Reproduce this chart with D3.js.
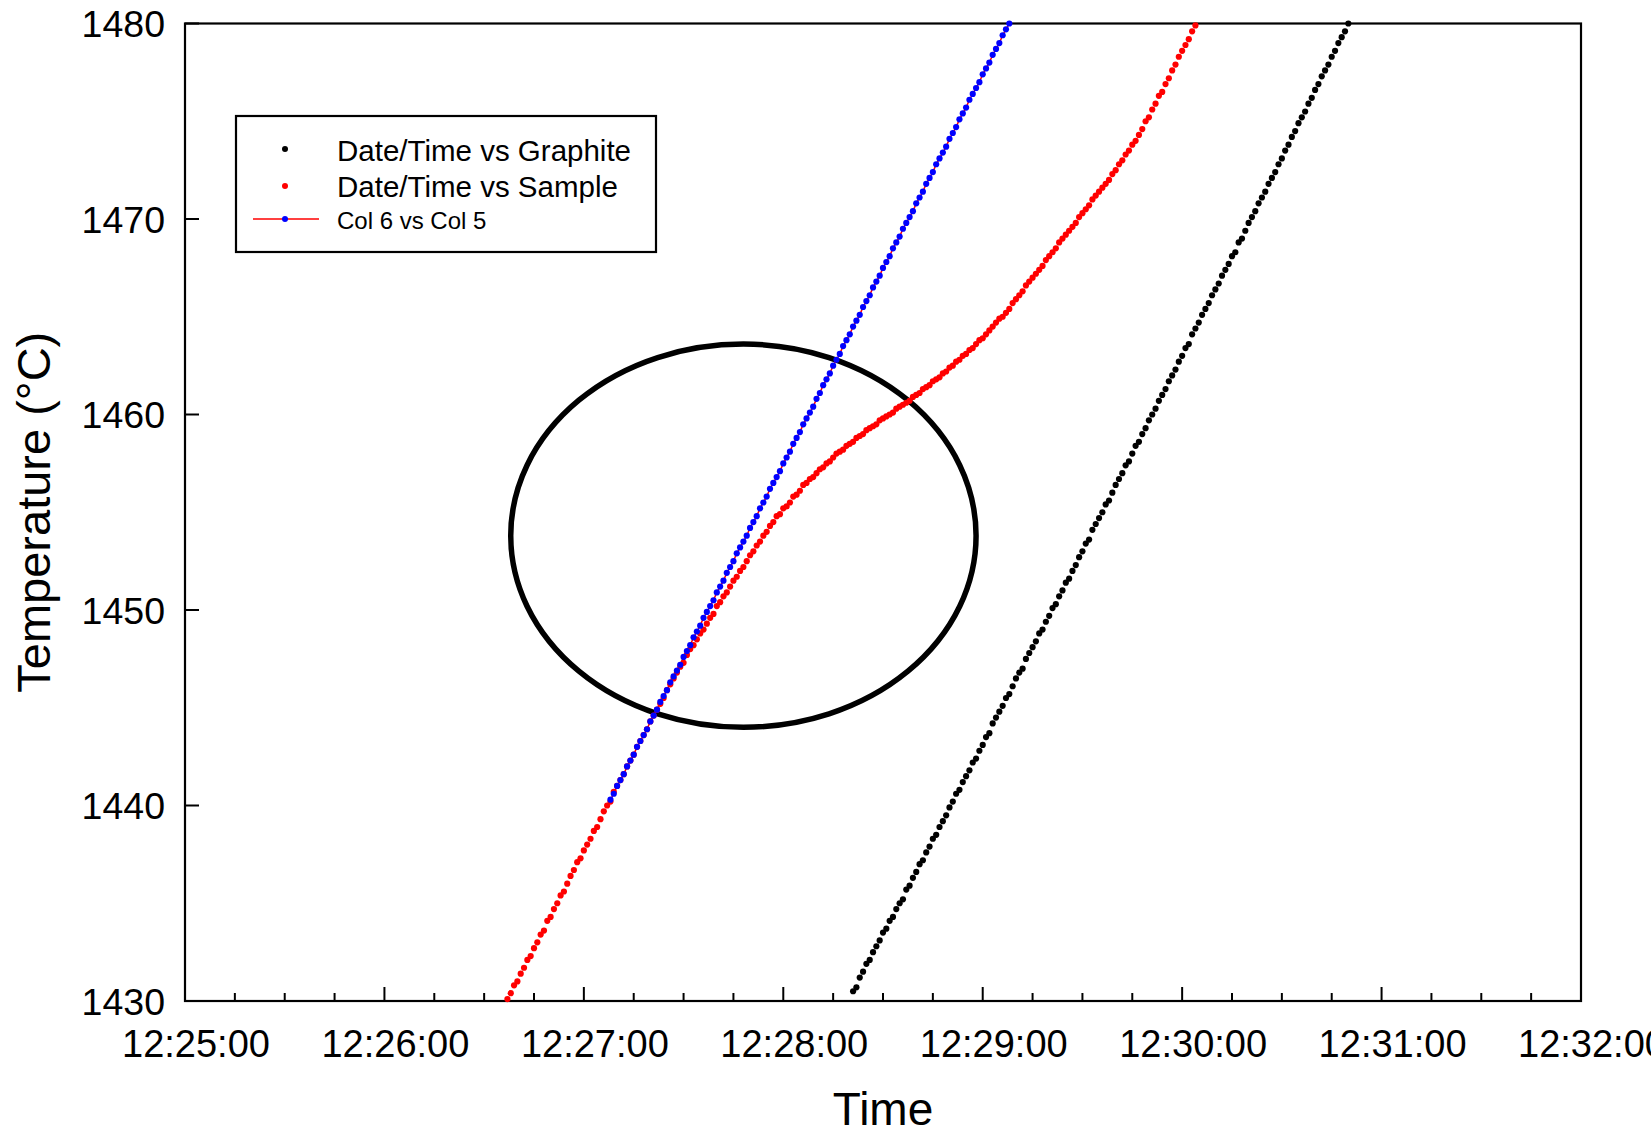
<!DOCTYPE html>
<html>
<head>
<meta charset="utf-8">
<script src="https://cdn.jsdelivr.net/npm/d3@7"></script>
<style>
  body { margin: 0; background: #fff; }
  text { font-family: "Liberation Sans", Arial, sans-serif; fill: #000; }
</style>
</head>
<body>
<div id="chart"></div>
<script>
// axis ticks
const timeTicks = ["12:25:00", "12:26:00", "12:27:00", "12:28:00", "12:29:00", "12:30:00", "12:31:00", "12:32:00"];
const tempTicks = [1430, 1440, 1450, 1460, 1470, 1480];

// one reading per second from the start time
const graphiteStart = "12:28:21";
const graphiteTemp = [
  1430.5, 1430.7, 1431.2, 1431.5, 1431.9, 1432.1, 1432.5, 1432.8, 1433.1, 1433.5,
  1433.7, 1434.1, 1434.3, 1434.7, 1435.0, 1435.2, 1435.7, 1435.9, 1436.3, 1436.6,
  1437.0, 1437.2, 1437.6, 1437.9, 1438.3, 1438.5, 1438.9, 1439.2, 1439.5, 1439.9,
  1440.2, 1440.6, 1440.8, 1441.2, 1441.5, 1441.8, 1442.2, 1442.4, 1442.8, 1443.1,
  1443.5, 1443.7, 1444.2, 1444.5, 1444.8, 1445.1, 1445.5, 1445.7, 1446.1, 1446.5,
  1446.8, 1447.0, 1447.5, 1447.8, 1448.1, 1448.4, 1448.8, 1449.0, 1449.4, 1449.7,
  1450.1, 1450.3, 1450.7, 1451.0, 1451.4, 1451.6, 1452.0, 1452.3, 1452.7, 1453.0,
  1453.4, 1453.6, 1454.1, 1454.4, 1454.7, 1455.0, 1455.4, 1455.6, 1456.0, 1456.4,
  1456.7, 1457.0, 1457.4, 1457.6, 1458.0, 1458.4, 1458.6, 1459.0, 1459.3, 1459.7,
  1460.0, 1460.3, 1460.7, 1461.0, 1461.3, 1461.7, 1462.0, 1462.3, 1462.7, 1463.0,
  1463.4, 1463.6, 1464.1, 1464.4, 1464.7, 1465.1, 1465.4, 1465.7, 1466.1, 1466.4,
  1466.7, 1467.1, 1467.4, 1467.7, 1468.1, 1468.3, 1468.8, 1469.0, 1469.4, 1469.8,
  1470.1, 1470.4, 1470.8, 1471.1, 1471.4, 1471.8, 1472.1, 1472.4, 1472.8, 1473.1,
  1473.5, 1473.8, 1474.2, 1474.5, 1474.9, 1475.2, 1475.5, 1475.9, 1476.2, 1476.6,
  1476.9, 1477.3, 1477.6, 1477.9, 1478.3, 1478.6, 1479.0, 1479.3, 1479.6, 1480.0
];

const sampleStart = "12:26:37";
const sampleTemp = [
  1430.1, 1430.4, 1430.8, 1431.0, 1431.4, 1431.7, 1432.1, 1432.3, 1432.7, 1433.0,
  1433.4, 1433.6, 1434.1, 1434.3, 1434.7, 1435.0, 1435.4, 1435.6, 1436.0, 1436.4,
  1436.7, 1437.1, 1437.3, 1437.7, 1438.0, 1438.3, 1438.7, 1438.9, 1439.3, 1439.7,
  1440.0, 1440.2, 1440.7, 1441.0, 1441.3, 1441.6, 1442.0, 1442.3, 1442.6, 1443.0,
  1443.3, 1443.6, 1443.9, 1444.3, 1444.6, 1444.9, 1445.2, 1445.5, 1445.9, 1446.2,
  1446.5, 1446.8, 1447.1, 1447.3, 1447.7, 1448.0, 1448.2, 1448.5, 1448.8, 1449.0,
  1449.3, 1449.6, 1449.8, 1450.2, 1450.4, 1450.7, 1450.9, 1451.2, 1451.5, 1451.7,
  1452.0, 1452.2, 1452.5, 1452.8, 1453.0, 1453.3, 1453.5, 1453.8, 1454.0, 1454.3,
  1454.5, 1454.8, 1454.9, 1455.2, 1455.3, 1455.5, 1455.8, 1455.9, 1456.1, 1456.4,
  1456.5, 1456.7, 1456.8, 1457.0, 1457.2, 1457.3, 1457.5, 1457.6, 1457.8, 1458.0,
  1458.1, 1458.2, 1458.4, 1458.5, 1458.6, 1458.8, 1458.9, 1459.0, 1459.2, 1459.3,
  1459.4, 1459.5, 1459.7, 1459.8, 1459.9, 1460.0, 1460.1, 1460.3, 1460.4, 1460.5,
  1460.6, 1460.7, 1460.9, 1461.0, 1461.1, 1461.3, 1461.4, 1461.5, 1461.7, 1461.8,
  1461.9, 1462.1, 1462.2, 1462.4, 1462.5, 1462.7, 1462.8, 1463.0, 1463.1, 1463.3,
  1463.4, 1463.6, 1463.8, 1463.9, 1464.1, 1464.3, 1464.5, 1464.7, 1464.9, 1465.0,
  1465.2, 1465.4, 1465.7, 1465.9, 1466.1, 1466.3, 1466.6, 1466.8, 1467.0, 1467.2,
  1467.4, 1467.6, 1467.9, 1468.1, 1468.3, 1468.5, 1468.8, 1469.0, 1469.2, 1469.4,
  1469.6, 1469.8, 1470.1, 1470.3, 1470.5, 1470.7, 1471.0, 1471.2, 1471.4, 1471.6,
  1471.8, 1472.0, 1472.3, 1472.5, 1472.8, 1473.0, 1473.3, 1473.5, 1473.8, 1474.0,
  1474.3, 1474.6, 1475.0, 1475.2, 1475.6, 1475.9, 1476.3, 1476.5, 1476.9, 1477.2,
  1477.6, 1477.9, 1478.3, 1478.6, 1478.9, 1479.2, 1479.6, 1479.9
];

const col6Start = "12:27:08";
const col6Temp = [
  1440.3, 1440.6, 1441.0, 1441.3, 1441.6, 1442.0, 1442.3, 1442.6, 1443.0, 1443.3,
  1443.6, 1443.9, 1444.3, 1444.6, 1444.9, 1445.3, 1445.6, 1445.9, 1446.3, 1446.6,
  1446.9, 1447.2, 1447.6, 1447.9, 1448.2, 1448.6, 1448.9, 1449.2, 1449.6, 1449.9,
  1450.2, 1450.5, 1450.9, 1451.2, 1451.5, 1451.9, 1452.2, 1452.5, 1452.9, 1453.2,
  1453.5, 1453.8, 1454.2, 1454.5, 1454.8, 1455.2, 1455.5, 1455.8, 1456.2, 1456.5,
  1456.8, 1457.1, 1457.5, 1457.8, 1458.1, 1458.5, 1458.8, 1459.1, 1459.5, 1459.8,
  1460.1, 1460.4, 1460.8, 1461.1, 1461.5, 1461.8, 1462.1, 1462.5, 1462.8, 1463.1,
  1463.5, 1463.8, 1464.1, 1464.5, 1464.8, 1465.1, 1465.5, 1465.8, 1466.1, 1466.5,
  1466.8, 1467.1, 1467.5, 1467.8, 1468.1, 1468.5, 1468.8, 1469.1, 1469.5, 1469.8,
  1470.1, 1470.4, 1470.8, 1471.1, 1471.4, 1471.8, 1472.1, 1472.4, 1472.8, 1473.1,
  1473.4, 1473.7, 1474.1, 1474.4, 1474.7, 1475.1, 1475.4, 1475.7, 1476.1, 1476.4,
  1476.7, 1477.0, 1477.4, 1477.7, 1478.0, 1478.4, 1478.7, 1479.0, 1479.4, 1479.7,
  1480.0
];

// hand-drawn ellipse annotation: centre (time, temp), half-width in s, half-height in °C
const ringCentre = ["12:27:48", 1453.8];
const ringHalfSeconds = 70;
const ringHalfTemp = 9.8;

const legendLabels = ["Date/Time vs Graphite", "Date/Time vs Sample", "Col 6 vs Col 5"];

const W = 1651, H = 1134;
const margin = {top: 23.5, right: 70, bottom: 133, left: 185};
const parseTime = d3.timeParse("%H:%M:%S");
const fmt = d3.timeFormat("%H:%M:%S");

const svg = d3.select("#chart").append("svg")
    .attr("width", W)
    .attr("height", H);

const x = d3.scaleTime()
    .domain([parseTime(timeTicks[0]), parseTime(timeTicks[timeTicks.length - 1])])
    .range([margin.left, W - margin.right]);
const y = d3.scaleLinear()
    .domain([tempTicks[0], tempTicks[tempTicks.length - 1]])
    .range([H - margin.bottom, margin.top]);

function series(start, temps) {
    const t0 = parseTime(start);
    return temps.map((v, i) => ({t: d3.timeSecond.offset(t0, i), v: v}))
        .filter(d => d.v >= y.domain()[0] && d.v <= y.domain()[1]);
}
const graphite = series(graphiteStart, graphiteTemp);
const sample = series(sampleStart, sampleTemp);
const col6 = series(col6Start, col6Temp);

// frame
svg.append("rect")
    .attr("x", margin.left).attr("y", margin.top)
    .attr("width", W - margin.left - margin.right)
    .attr("height", H - margin.top - margin.bottom)
    .attr("fill", "none").attr("stroke", "#000").attr("stroke-width", 2.2);

// x ticks (inward), minor every 15 s
const yb = H - margin.bottom;
const minor = x.ticks(d3.timeSecond.every(15));
svg.append("g").selectAll("line")
    .data(minor)
    .join("line")
    .attr("x1", d => x(d)).attr("x2", d => x(d))
    .attr("y1", yb)
    .attr("y2", d => yb - (d.getSeconds() === 0 ? 14 : 8))
    .attr("stroke", "#000").attr("stroke-width", 2);

svg.append("g").selectAll("text")
    .data(timeTicks.map(parseTime))
    .join("text")
    .attr("x", d => x(d) + 11)
    .attr("y", 1057)
    .attr("text-anchor", "middle")
    .attr("font-size", 38)
    .text(d => fmt(d));

// y ticks
svg.append("g").selectAll("line")
    .data(tempTicks)
    .join("line")
    .attr("x1", margin.left).attr("x2", margin.left + 14)
    .attr("y1", d => y(d)).attr("y2", d => y(d))
    .attr("stroke", "#000").attr("stroke-width", 2);

svg.append("g").selectAll("text")
    .data(tempTicks)
    .join("text")
    .attr("x", margin.left - 20)
    .attr("y", d => y(d))
    .attr("dy", "0.36em")
    .attr("text-anchor", "end")
    .attr("font-size", 37.5)
    .text(d => d);

// axis titles
svg.append("text")
    .attr("x", (margin.left + W - margin.right) / 2)
    .attr("y", 1125)
    .attr("text-anchor", "middle")
    .attr("font-size", 46)
    .text("Time");

svg.append("text")
    .attr("transform", "translate(50," + ((margin.top + H - margin.bottom) / 2) + ") rotate(-90)")
    .attr("text-anchor", "middle")
    .attr("font-size", 47)
    .text("Temperature (°C)");

// ellipse
const c = parseTime(ringCentre[0]);
svg.append("ellipse")
    .attr("cx", x(c))
    .attr("cy", y(ringCentre[1]))
    .attr("rx", x(d3.timeSecond.offset(c, ringHalfSeconds)) - x(c))
    .attr("ry", y(ringCentre[1] - ringHalfTemp) - y(ringCentre[1]))
    .attr("fill", "none")
    .attr("stroke", "#000")
    .attr("stroke-width", 5.5);

const R = 3.1;
svg.append("g").selectAll("circle")
    .data(graphite).join("circle")
    .attr("cx", d => x(d.t)).attr("cy", d => y(d.v)).attr("r", R)
    .attr("fill", "#000");

svg.append("g").selectAll("circle")
    .data(sample).join("circle")
    .attr("cx", d => x(d.t)).attr("cy", d => y(d.v)).attr("r", R)
    .attr("fill", "#ff0000");

svg.append("path")
    .datum(col6)
    .attr("d", d3.line().x(d => x(d.t)).y(d => y(d.v)))
    .attr("fill", "none")
    .attr("stroke", "#ff0000")
    .attr("stroke-width", 1.5);

svg.append("g").selectAll("circle")
    .data(col6).join("circle")
    .attr("cx", d => x(d.t)).attr("cy", d => y(d.v)).attr("r", R)
    .attr("fill", "#0000ff");

// legend
const lg = svg.append("g");
lg.append("rect")
    .attr("x", 236).attr("y", 116).attr("width", 420).attr("height", 136)
    .attr("fill", "#fff").attr("stroke", "#000").attr("stroke-width", 2.2);

lg.append("circle").attr("cx", 285).attr("cy", 149).attr("r", 3).attr("fill", "#000");
lg.append("circle").attr("cx", 285).attr("cy", 186).attr("r", 3).attr("fill", "#ff0000");
lg.append("line").attr("x1", 253).attr("x2", 319).attr("y1", 219).attr("y2", 219)
    .attr("stroke", "#ff0000").attr("stroke-width", 1.5);
lg.append("circle").attr("cx", 285).attr("cy", 219).attr("r", 3).attr("fill", "#0000ff");

lg.append("text").attr("x", 337).attr("y", 160.5).attr("font-size", 29.5).text(legendLabels[0]);
lg.append("text").attr("x", 337).attr("y", 196.5).attr("font-size", 29.5).text(legendLabels[1]);
lg.append("text").attr("x", 337).attr("y", 228.5).attr("font-size", 24).text(legendLabels[2]);
</script>
</body>
</html>
